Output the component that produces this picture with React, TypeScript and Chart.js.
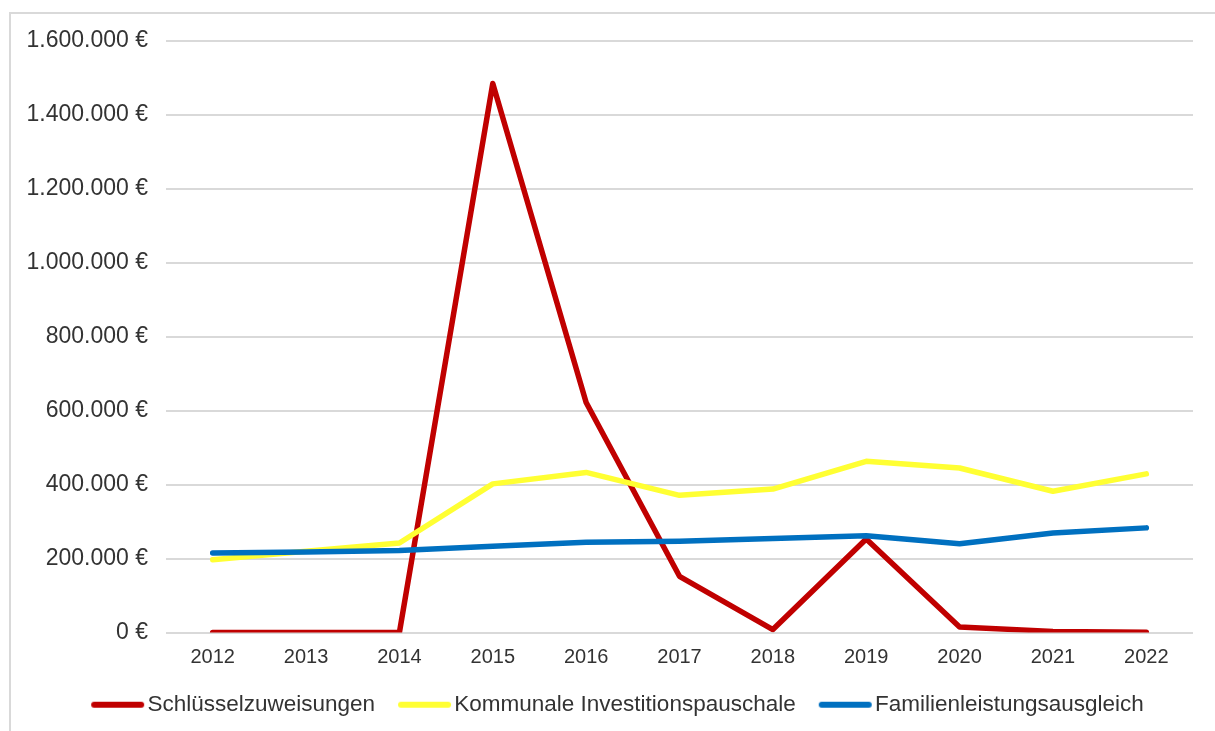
import React, { useEffect, useRef } from 'react';
import { Chart, registerables } from 'chart.js';

Chart.register(...registerables);

const YEARS = ['2012', '2013', '2014', '2015', '2016', '2017', '2018', '2019', '2020', '2021', '2022'];
const SCHLUESSELZUWEISUNGEN = [0, 0, 0, 1485000, 622000, 152000, 8000, 253000, 15000, 3000, 1000];
const INVESTITIONSPAUSCHALE = [197000, 220000, 242000, 402000, 433000, 371000, 388000, 463000, 445000, 382000, 429000];
const FAMILIENLEISTUNGSAUSGLEICH = [215000, 218000, 222000, 233000, 244000, 247000, 254000, 262000, 240000, 269000, 283000];
const SERIES_NAMES = ['Schlüsselzuweisungen', 'Kommunale Investitionspauschale', 'Familienleistungsausgleich'];
const SERIES_COLORS = ['#C00000', '#FFFF33', '#0070C0'];
const Y_TICK_VALUES = [0, 200000, 400000, 600000, 800000, 1000000, 1200000, 1400000, 1600000];
const Y_TICK_LABELS = ['0 €', '200.000 €', '400.000 €', '600.000 €', '800.000 €', '1.000.000 €', '1.200.000 €', '1.400.000 €', '1.600.000 €'];

const FONT = '"Liberation Sans", Arial, sans-serif';
const TEXT_COLOR = '#333333';

function makeLegendImage(color: string): HTMLCanvasElement {
  const c = document.createElement('canvas');
  c.width = 80;
  c.height = 10;
  const g = c.getContext('2d')!;
  g.strokeStyle = color;
  g.lineWidth = 6;
  g.lineCap = 'round';
  g.beginPath();
  g.moveTo(28, 5);
  g.lineTo(75, 5);
  g.stroke();
  return c;
}

export default function App() {
  const ref = useRef<HTMLCanvasElement>(null);

  useEffect(() => {
    document.body.style.margin = '0';
    const images = SERIES_COLORS.map(makeLegendImage);
    const values = [SCHLUESSELZUWEISUNGEN, INVESTITIONSPAUSCHALE, FAMILIENLEISTUNGSAUSGLEICH];
    const chart = new Chart(ref.current!, {
      type: 'line',
      data: {
        labels: YEARS,
        datasets: values.map((data, i) => ({
          label: SERIES_NAMES[i],
          data,
          borderColor: SERIES_COLORS[i],
          backgroundColor: SERIES_COLORS[i],
          borderWidth: 5.5,
          borderCapStyle: 'round' as const,
          borderJoinStyle: 'round' as const,
          pointRadius: 0,
          pointHoverRadius: 0,
          tension: 0,
          fill: false,
          order: 3 - i,
        })),
      },
      options: {
        responsive: false,
        animation: false,
        devicePixelRatio: 1,
        layout: { padding: { left: 27, right: 22, top: 41, bottom: 5 } },
        plugins: {
          tooltip: { enabled: false },
          legend: {
            position: 'bottom',
            labels: {
              usePointStyle: true,
              pointStyleWidth: 60,
              boxHeight: 10,
              padding: 8,
              color: TEXT_COLOR,
              font: { family: FONT, size: 22.5 },
              sort: (a: any, b: any) => a.datasetIndex - b.datasetIndex,
              generateLabels: (ch: any) => {
                const items = Chart.defaults.plugins.legend.labels.generateLabels(ch);
                return items.map((it: any) => ({ ...it, pointStyle: images[it.datasetIndex] }));
              },
            },
          },
        },
        scales: {
          x: {
            offset: true,
            grid: { display: false, drawTicks: false },
            border: { display: false },
            ticks: { color: TEXT_COLOR, font: { family: FONT, size: 20 }, padding: 13, maxRotation: 0 },
            afterFit: (scale: any) => { scale.height = 53; },
          },
          y: {
            min: 0,
            max: 1600000,
            grid: { color: '#d9d9d9', lineWidth: 2, drawTicks: false },
            border: { display: false },
            afterBuildTicks: (scale: any) => { scale.ticks = Y_TICK_VALUES.map((v) => ({ value: v })); },
            ticks: {
              color: TEXT_COLOR,
              font: { family: FONT, size: 23 },
              padding: 18,
              callback: (v: any) => Y_TICK_LABELS[Y_TICK_VALUES.indexOf(Number(v))] ?? '',
            },
            afterFit: (scale: any) => { scale.width = 139; },
          },
        },
      },
    });
    return () => chart.destroy();
  }, []);

  return (
    <div style={{ position: 'relative', width: 1215, height: 731, overflow: 'hidden', background: '#ffffff' }}>
      <div
        style={{
          position: 'absolute',
          left: 9,
          top: 12,
          width: 1400,
          height: 900,
          borderTop: '2px solid #d9d9d9',
          borderLeft: '2px solid #d9d9d9',
        }}
      />
      <canvas ref={ref} width={1215} height={731} style={{ position: 'absolute', left: 0, top: 0 }} />
    </div>
  );
}
